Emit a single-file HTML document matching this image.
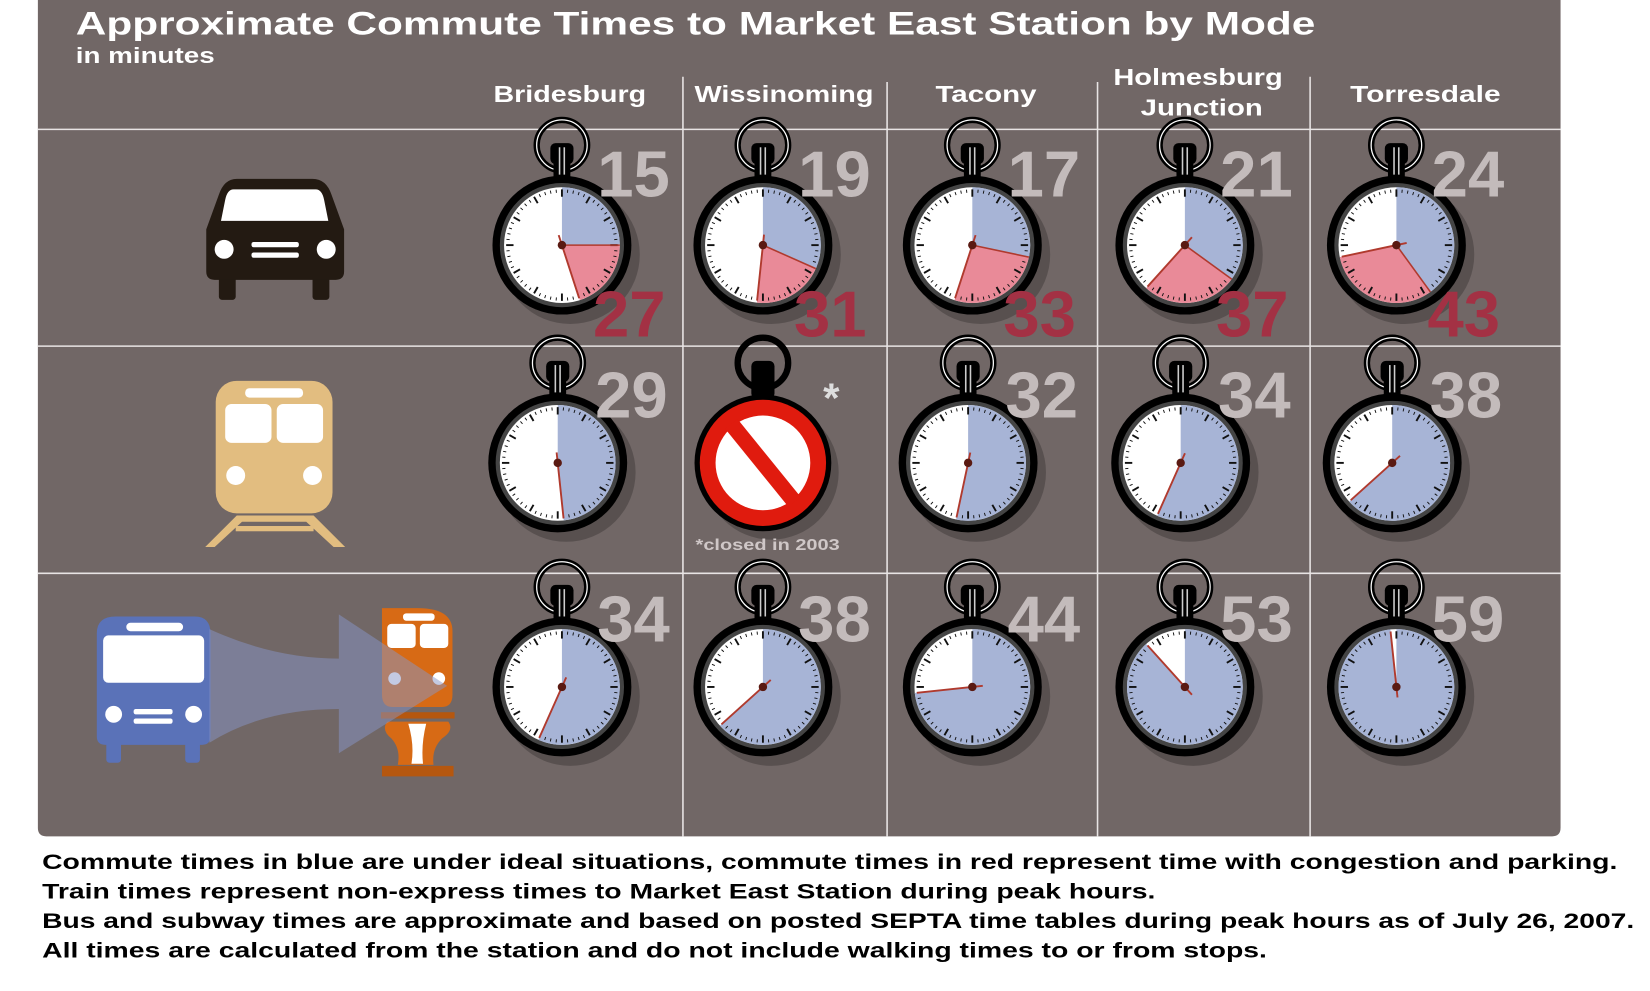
<!DOCTYPE html>
<html><head><meta charset="utf-8"><style>
html,body{margin:0;padding:0;background:#fff;}
svg{display:block;font-family:"Liberation Sans",Arial,sans-serif;font-weight:bold;}
</style></head><body>
<svg id="chart" width="1650" height="991" viewBox="0 0 1568 942" preserveAspectRatio="none" xmlns="http://www.w3.org/2000/svg">
<path d="M36 0 H1483 V787 Q1483 795 1475 795 H44 Q36 795 36 787 Z" fill="#716766"/>
<text x="72" y="33" font-size="31" fill="#fff" textLength="1178" lengthAdjust="spacingAndGlyphs">Approximate Commute Times to Market East Station by Mode</text>
<text x="72" y="60" font-size="21" fill="#fff" textLength="132" lengthAdjust="spacingAndGlyphs">in minutes</text>
<g stroke="#e8e4e4" stroke-width="1.5">
<line x1="36" y1="123" x2="1483" y2="123"/><line x1="36" y1="329" x2="1483" y2="329"/><line x1="36" y1="545" x2="1483" y2="545"/>
<line x1="649" y1="73" x2="649" y2="795"/><line x1="843" y1="78" x2="843" y2="795"/><line x1="1043" y1="78" x2="1043" y2="795"/><line x1="1245" y1="73" x2="1245" y2="795"/>
</g>
<g fill="#fff" font-size="22">
<text x="469" y="97" textLength="145" lengthAdjust="spacingAndGlyphs">Bridesburg</text>
<text x="660" y="97" textLength="170" lengthAdjust="spacingAndGlyphs">Wissinoming</text>
<text x="889" y="97" textLength="96" lengthAdjust="spacingAndGlyphs">Tacony</text>
<text x="1058" y="81" textLength="161" lengthAdjust="spacingAndGlyphs">Holmesburg</text>
<text x="1084" y="110" textLength="116" lengthAdjust="spacingAndGlyphs">Junction</text>
<text x="1283" y="97" textLength="143" lengthAdjust="spacingAndGlyphs">Torresdale</text>
</g>
<!-- car icon -->
<g fill="#231a12">
<rect x="208" y="255" width="16" height="30" rx="3"/><rect x="297" y="255" width="16" height="30" rx="3"/>
<path d="M225 170 H297 Q310 170 315 185 L327 218 V258 Q327 266 319 266 H204 Q196 266 196 258 V218 L208 185 Q213 170 225 170 Z"/>
<path d="M222 180 H300 Q306 180 308 190 L312 210 H210 L214 190 Q216 180 222 180 Z" fill="#fff"/>
<circle cx="213" cy="237" r="9" fill="#fff"/><circle cx="310" cy="237" r="9" fill="#fff"/>
<rect x="239" y="230" width="45" height="5" rx="2" fill="#fff"/><rect x="239" y="240" width="45" height="5" rx="2" fill="#fff"/>
</g>
<!-- train icon -->
<g>
<rect x="205" y="362" width="111" height="126" rx="20" fill="#e2bd80"/>
<rect x="233" y="369" width="55" height="9" rx="4" fill="#fff"/>
<rect x="214" y="384" width="44" height="37" rx="6" fill="#fff"/><rect x="263" y="384" width="44" height="37" rx="6" fill="#fff"/>
<circle cx="224" cy="452" r="9" fill="#fff"/><circle cx="297" cy="452" r="9" fill="#fff"/>
<path d="M225 490 L195 520 H204 L230 496 H291 L317 520 H328 L298 490 Z" fill="#e2bd80"/>
<rect x="224" y="500" width="74" height="5" fill="#e2bd80"/>
</g>
<!-- bus to subway icon -->
<g>
<rect x="101" y="690" width="14" height="35" rx="3" fill="#5a72b8"/><rect x="176" y="690" width="14" height="35" rx="3" fill="#5a72b8"/>
<path d="M110 586 H185 Q200 586 200 602 V700 Q200 708 192 708 H100 Q92 708 92 700 V602 Q92 586 110 586 Z" fill="#5a72b8"/>
<rect x="120" y="592" width="54" height="8" rx="4" fill="#fff"/>
<rect x="98" y="604" width="96" height="45" rx="5" fill="#fff"/>
<circle cx="108" cy="679" r="8" fill="#fff"/><circle cx="184" cy="679" r="8" fill="#fff"/>
<rect x="127" y="674" width="37" height="5" rx="2" fill="#fff"/><rect x="127" y="683" width="37" height="5" rx="2" fill="#fff"/>
<path d="M363 578 H397 Q430 578 430 600 V660 Q430 672 420 672 H373 Q363 672 363 660 Z" fill="#d76a15"/>
<rect x="383" y="583" width="30" height="7" rx="3" fill="#fff"/>
<rect x="368" y="593" width="27" height="23" rx="4" fill="#fff"/><rect x="399" y="593" width="27" height="23" rx="4" fill="#fff"/>
<circle cx="375" cy="645" r="6" fill="#fff"/><circle cx="417" cy="645" r="6" fill="#fff"/>
<rect x="362" y="677" width="70" height="6" fill="#b5570f"/>
<path d="M368 686 H426 Q432 694 420 702 Q410 712 412 727 H378 Q381 712 372 702 Q362 694 368 686 Z" fill="#d76a15"/>
<path d="M388 688 H405 Q400 708 402 726 H391 Q394 708 388 688 Z" fill="#fff"/>
<rect x="363" y="728" width="68" height="10" fill="#b5570f"/>
<path d="M199 598 Q260 626 322 626 V584 L425 652 L322 716 V674 Q250 674 199 706 Z" fill="#8796c8" opacity="0.5"/>
</g>
<g id="clocks"></g>
<!-- footer -->
<g fill="#000" font-size="20">
<text x="40" y="826" textLength="1497" lengthAdjust="spacingAndGlyphs">Commute times in blue are under ideal situations, commute times in red represent time with congestion and parking.</text>
<text x="40" y="854" textLength="1058" lengthAdjust="spacingAndGlyphs">Train times represent non-express times to Market East Station during peak hours.</text>
<text x="40" y="882" textLength="1513" lengthAdjust="spacingAndGlyphs">Bus and subway times are approximate and based on posted SEPTA time tables during peak hours as of July 26, 2007.</text>
<text x="40" y="910" textLength="1164" lengthAdjust="spacingAndGlyphs">All times are calculated from the station and do not include walking times to or from stops.</text>
</g>
</svg>
<script>
const stations = ["Bridesburg","Wissinoming","Tacony","Holmesburg Junction","Torresdale"];
const carIdeal = [15,19,17,21,24];
const carCongested = [27,31,33,37,43];
const trainTimes = [29,null,32,34,38];
const busTimes = [34,38,44,53,59];

const NS="http://www.w3.org/2000/svg";
const colX=[534,725,924,1126,1327];
const rowY=[233,440,653];
const R=55;
const g=document.getElementById('clocks');
function el(t,a,p){const e=document.createElementNS(NS,t);for(const k in a)e.setAttribute(k,a[k]);(p||g).appendChild(e);return e;}
function ang(m){return m/60*2*Math.PI;}
function pt(cx,cy,m,r){const a=ang(m);return [cx+r*Math.sin(a),cy-r*Math.cos(a)];}
function wedge(cx,cy,m0,m1,fill,parent,name){
  const [x0,y0]=pt(cx,cy,m0,R),[x1,y1]=pt(cx,cy,m1,R);
  const large=(m1-m0)>30?1:0;
  const p=el('path',{d:`M${cx} ${cy} L${x0} ${y0} A${R} ${R} 0 ${large} 1 ${x1} ${y1} Z`,fill:fill},parent);
  
  
}
function clock(cx,cy,blue,red,label){
  const c=el('g',{});
  
  
  el('circle',{cx:cx+8,cy:cy+9,r:66,fill:'#000',opacity:0.22},c);
  el('circle',{cx:cx,cy:cy-95,r:24,fill:'none',stroke:'#000','stroke-width':6},c);
  el('circle',{cx:cx,cy:cy-95,r:24,fill:'none',stroke:'#fff','stroke-width':1.2},c);
  el('rect',{x:cx-8,y:cy-85,width:16,height:22,fill:'#000'},c);
  el('rect',{x:cx-11,y:cy-97,width:22,height:20,rx:5,fill:'#000'},c);
  el('rect',{x:cx-3,y:cy-93,width:1.5,height:26,fill:'#ccc'},c);
  el('rect',{x:cx+1.5,y:cy-93,width:1.5,height:26,fill:'#ccc'},c);
  el('circle',{cx:cx,cy:cy,r:66,fill:'#000'},c);
  el('circle',{cx:cx,cy:cy,r:59,fill:'#444'},c);
  el('circle',{cx:cx,cy:cy,r:R,fill:'#fff'},c);
  if(blue!=null) wedge(cx,cy,0,Math.min(blue,59.99),'#a7b4d6',c,'ideal-time-wedge');
  if(red!=null) wedge(cx,cy,blue,red,'#e98a98',c,'congested-time-wedge');
  for(let i=0;i<60;i++){
    const long=i%5===0;
    const [x0,y0]=pt(cx,cy,i,R-2),[x1,y1]=pt(cx,cy,i,R-(long?9:5));
    el('line',{x1:x0,y1:y0,x2:x1,y2:y1,stroke:'#111','stroke-width':long?1.8:0.9},c);
  }
  const hand=red!=null?red:blue;
  if(blue!=null && red!=null){const [bx,by]=pt(cx,cy,blue,R);el('line',{x1:cx,y1:cy,x2:bx,y2:by,stroke:'#b03a2e','stroke-width':1.5},c);}
  const [hx,hy]=pt(cx,cy,hand,R-2),[tx,ty]=pt(cx,cy,hand+30,10);
  const h=el('line',{x1:tx,y1:ty,x2:hx,y2:hy,stroke:'#b03a2e','stroke-width':1.8},c);
  
  
  el('circle',{cx:cx,cy:cy,r:4,fill:'#5a1a12'},c);
  return c;
}
function num(x,y,v,fill,name){
  const t=el('text',{x:x,y:y,'text-anchor':'middle','font-size':62,fill:fill});
  t.textContent=v;
  
  
}
stations.forEach((s,i)=>{
  const cx=colX[i];
  clock(cx,rowY[0],carIdeal[i],carCongested[i],'car-'+i);
  num(cx+68,rowY[0]-46,carIdeal[i],'#c3bbbb','car-ideal-value');
  num(cx+64,rowY[0]+87,carCongested[i],'#a33144','car-congested-value');
  if(trainTimes[i]==null){
    const c=el('g',{});
    
    
    const y=rowY[1];
    el('circle',{cx:cx+8,cy:y+9,r:64,fill:'#000',opacity:0.22},c);
    el('circle',{cx:cx,cy:y-95,r:24,fill:'none',stroke:'#000','stroke-width':6},c);
    el('rect',{x:cx-11,y:y-97,width:22,height:36,rx:5,fill:'#000'},c);
    el('circle',{cx:cx,cy:y,r:65,fill:'#000'},c);
    el('circle',{cx:cx,cy:y,r:60,fill:'#e01b0e'},c);
    el('circle',{cx:cx,cy:y,r:45,fill:'#fff'},c);
    el('line',{x1:cx-30,y1:y-37,x2:cx+30,y2:y+37,stroke:'#e01b0e','stroke-width':15},c);
    const a=el('text',{x:cx+65,y:y-48,'text-anchor':'middle','font-size':40,fill:'#ddd'});a.textContent='*';
    
    
    const n=el('text',{x:cx-64,y:y+83,'font-size':15,fill:'#cfc7c7',textLength:137,lengthAdjust:'spacingAndGlyphs'});n.textContent='*closed in 2003';
    
    
  } else {
    clock(cx-4,rowY[1],trainTimes[i],null,'train-'+i);
    num(cx+66,rowY[1]-43,trainTimes[i],'#c3bbbb','train-value');
  }
  clock(cx,rowY[2],busTimes[i],null,'bus-'+i);
  num(cx+68,rowY[2]-43,busTimes[i],'#c3bbbb','bus-value');
});
</script>
</body></html>
